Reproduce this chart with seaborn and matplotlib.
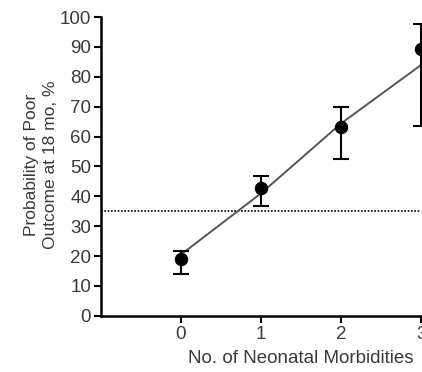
import matplotlib
matplotlib.use("Agg")
import matplotlib.pyplot as plt
import seaborn as sns
import pandas as pd

# data
morbidities = [0, 1, 2, 3]
prob = [19.0, 42.8, 63.1, 89.3]
err_low = [14.0, 36.7, 52.6, 63.5]
err_high = [21.8, 46.7, 70.0, 97.7]
fit_prob = [20.5, 41.0, 64.4, 84.0]
threshold = 35

df = pd.DataFrame({"n": morbidities, "p": prob, "fit": fit_prob})

sns.set_style("ticks")
plt.rcParams["font.family"] = ["Liberation Sans", "DejaVu Sans"]
txt = "#3a3a3a"

fig = plt.figure(figsize=(4.22, 3.72), dpi=100)
ax = fig.add_axes([0.239, 0.151, 0.759, 0.803])

# fitted curve
sns.lineplot(data=df, x="n", y="fit", ax=ax, color="#555555", lw=1.4)
# threshold line
ax.axhline(threshold, color="black", lw=1.2, ls=(0, (1, 1)), zorder=1)

# points with error bars
yerr = [[p - lo for p, lo in zip(prob, err_low)],
        [hi - p for p, hi in zip(prob, err_high)]]
ax.errorbar(morbidities, prob, yerr=yerr, fmt="none", ecolor="black",
            elinewidth=1.5, capsize=6, capthick=1.5, zorder=3, clip_on=False)
sns.scatterplot(data=df, x="n", y="p", ax=ax, color="black", s=80,
                edgecolor="black", zorder=4, clip_on=False)

ax.set_xlim(-1, 3)
ax.set_ylim(0, 100)
ax.set_xticks(morbidities)
ax.set_yticks(range(0, 101, 10))
sns.despine(ax=ax)
for s in ["left", "bottom"]:
    ax.spines[s].set_linewidth(1.8)
    ax.spines[s].set_color("black")
ax.tick_params(axis="both", length=5, width=1.5, color="black",
               labelsize=13.5, labelcolor=txt, pad=2)

ax.set_xlabel("No. of Neonatal Morbidities", fontsize=13.5, color=txt)
ax.xaxis.set_label_coords(0.623, -0.115)
ax.set_ylabel("Probability of Poor\nOutcome at 18 mo, %", fontsize=12.5,
              color=txt, linespacing=1.3)
ax.yaxis.set_label_coords(-0.135, 0.505)

fig.savefig("out.png", dpi=100)
